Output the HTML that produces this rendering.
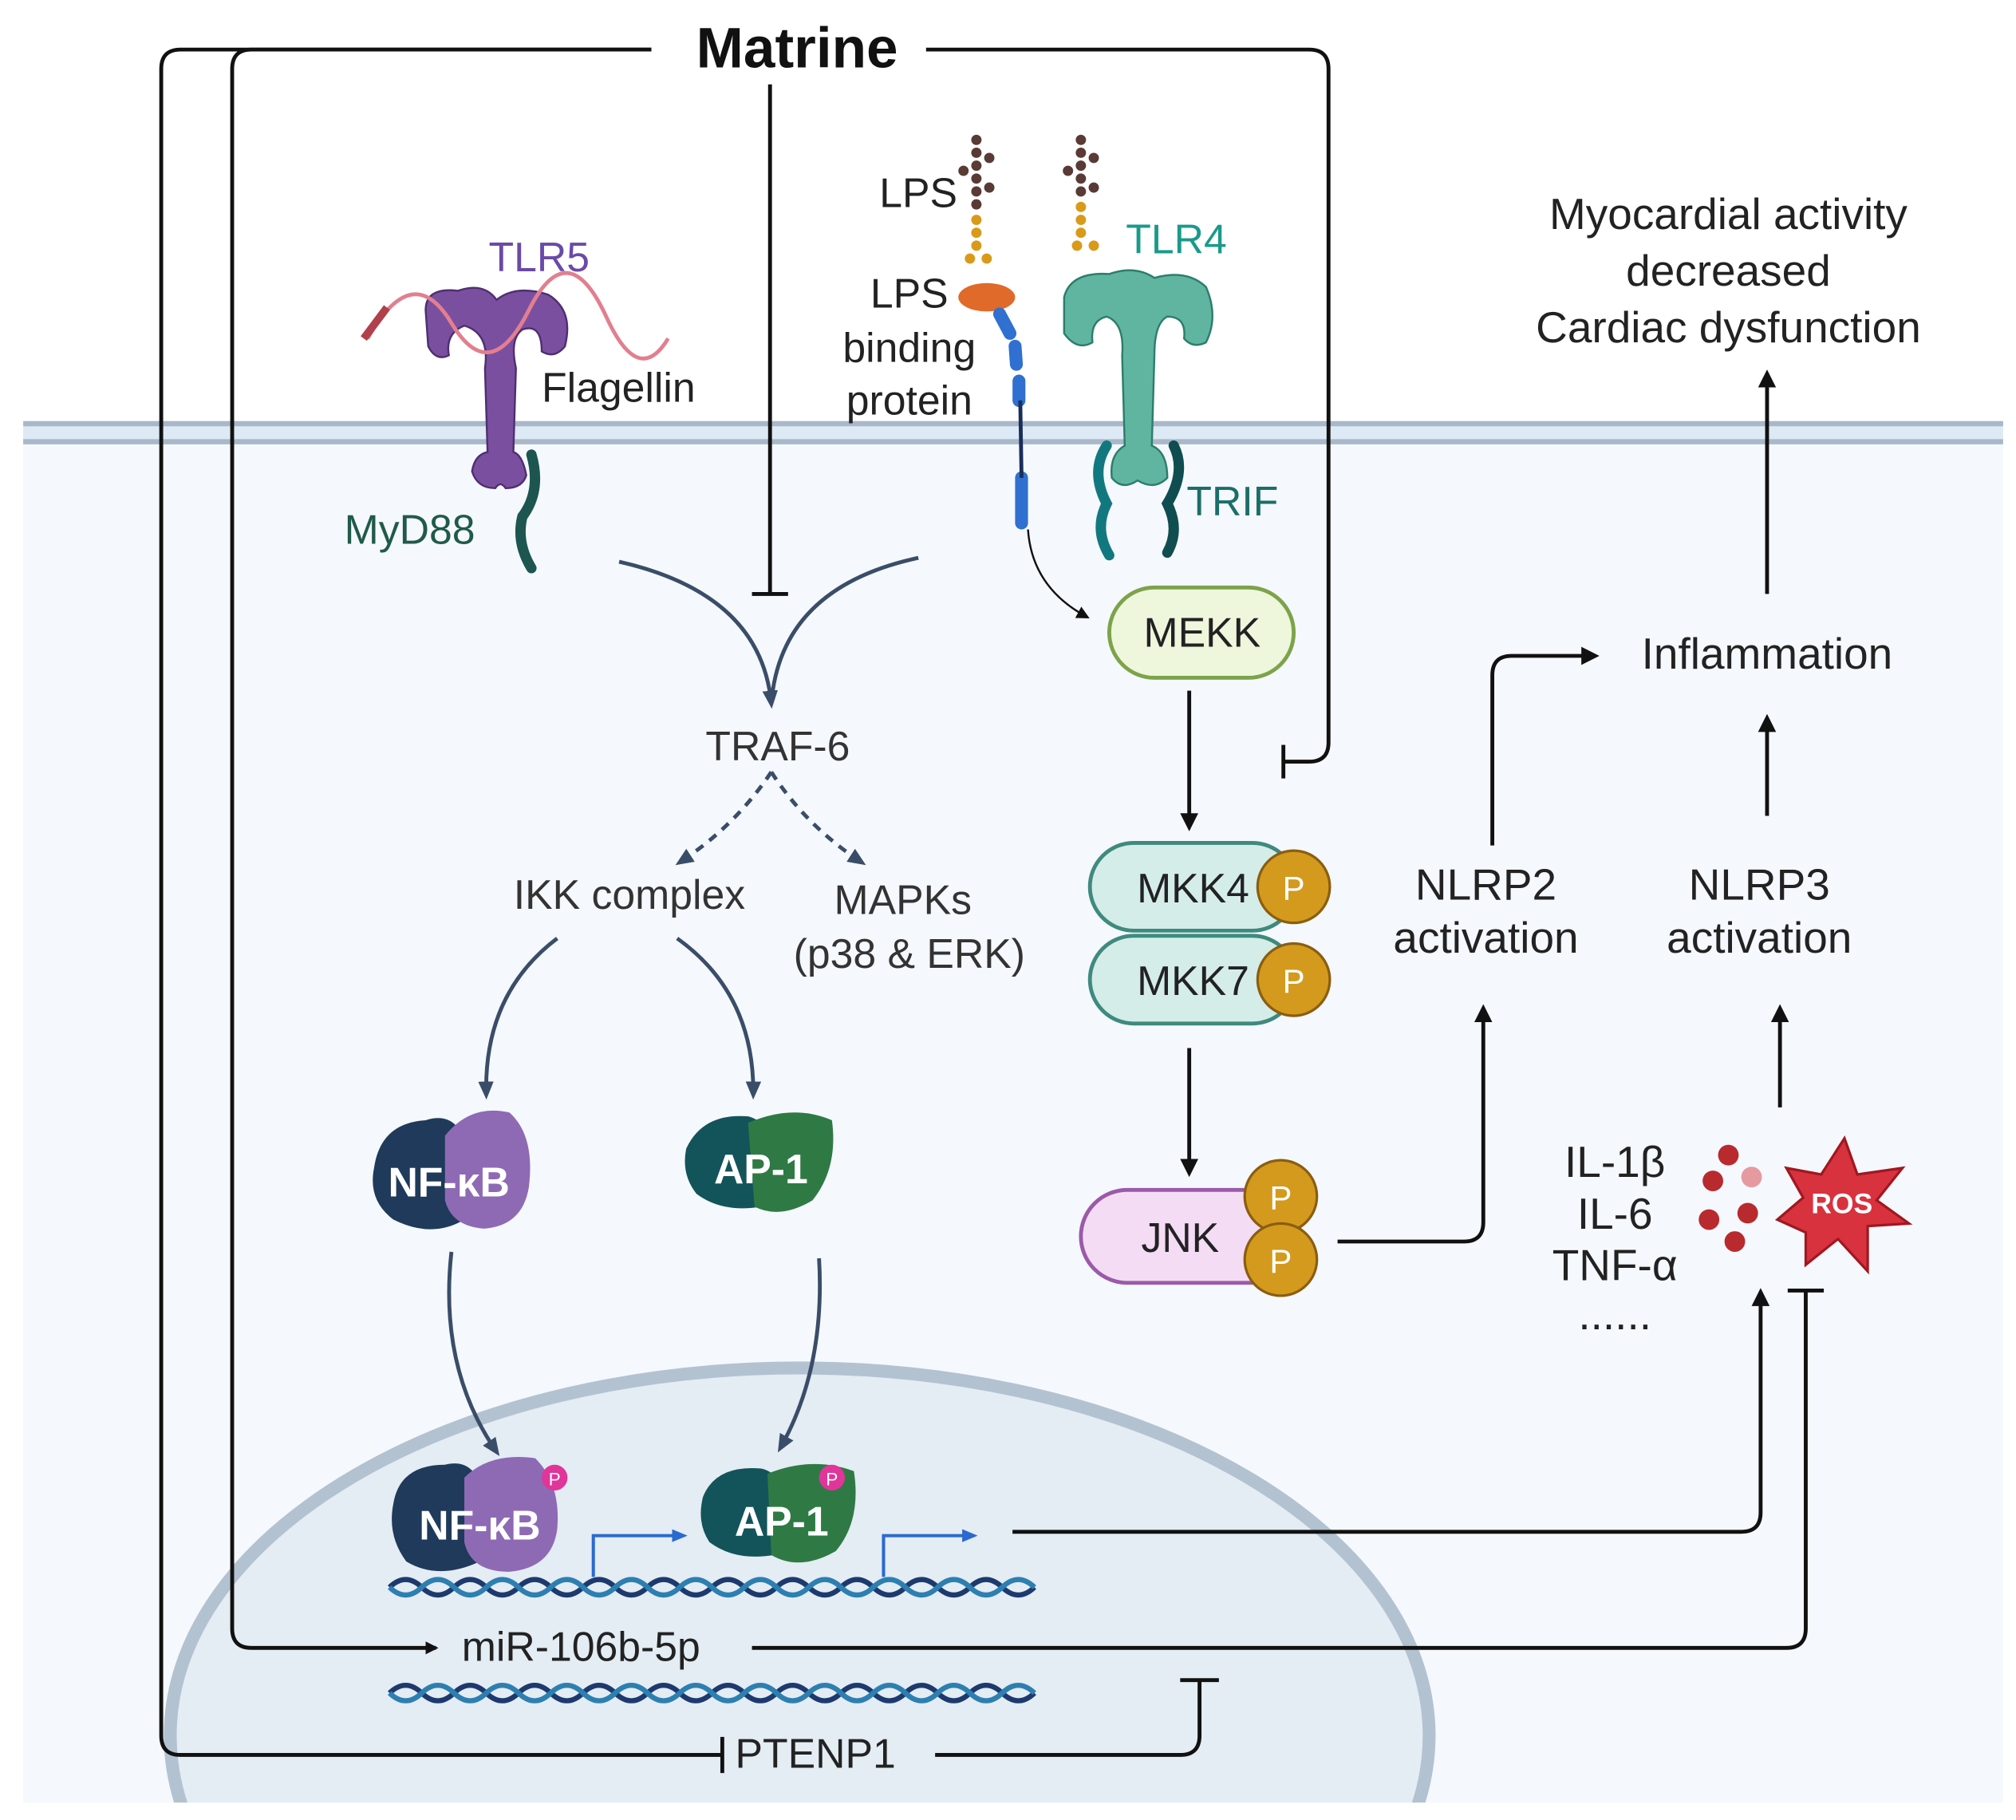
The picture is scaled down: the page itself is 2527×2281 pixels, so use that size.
<!DOCTYPE html><html><head><style>html,body{margin:0;padding:0;background:#fff;width:2527px;height:2281px;overflow:hidden}svg{display:block}text{font-family:"Liberation Sans",sans-serif}</style></head><body>
<svg width="2527" height="2281" viewBox="0 0 1563 1410" xmlns="http://www.w3.org/2000/svg">
<defs>
<marker id="a" markerWidth="10" markerHeight="10" refX="8" refY="5" orient="auto" markerUnits="userSpaceOnUse" viewBox="0 0 10 10"><path d="M0,0 L10,5 L0,10 z" fill="#111"/></marker>
<marker id="ab" markerWidth="14" markerHeight="14" refX="10" refY="7" orient="auto" markerUnits="userSpaceOnUse" viewBox="0 0 14 14"><path d="M0,0 L14,7 L0,14 z" fill="#111"/></marker>
<marker id="ad" markerWidth="14" markerHeight="14" refX="10" refY="7" orient="auto" markerUnits="userSpaceOnUse" viewBox="0 0 14 14"><path d="M0,1 L14,7 L0,13 z" fill="#3a4d68"/></marker>
<marker id="ablue" markerWidth="12" markerHeight="12" refX="9" refY="6" orient="auto" markerUnits="userSpaceOnUse" viewBox="0 0 12 12"><path d="M0,1 L12,6 L0,11 z" fill="#2a6ad0"/></marker>
</defs>
<rect width="1563" height="1410" fill="#fff"/>
<rect x="18" y="340" width="1535" height="1057" fill="#f5f8fc"/>
<rect x="18" y="326" width="1535" height="17" fill="#dde9f5"/>
<line x1="18" y1="328" x2="1553" y2="328" stroke="#a8b8c8" stroke-width="4"/>
<line x1="18" y1="342" x2="1553" y2="342" stroke="#a8b8c8" stroke-width="4"/>
<clipPath id="c"><rect x="0" y="0" width="1563" height="1397"/></clipPath>
<ellipse cx="620" cy="1345" rx="488" ry="285" fill="#e4ecf4" stroke="#b3c2d1" stroke-width="10" clip-path="url(#c)"/>
<rect x="0" y="1397" width="1563" height="13" fill="#fff"/>

<g fill="none" stroke="#111" stroke-width="3">
<path d="M505,38 H140 Q125,38 125,53 V1345 Q125,1360 140,1360 H560"/>
<line x1="560" y1="1346" x2="560" y2="1374"/>
<path d="M505,38 H195 Q180,38 180,53 V1262 Q180,1277 195,1277 H338" marker-end="url(#a)"/>
<path d="M718,38 H1015 Q1030,38 1030,53 V575 Q1030,590 1015,590 H995"/>
<line x1="995" y1="577" x2="995" y2="603"/>
<line x1="597" y1="65" x2="597" y2="460"/>
<line x1="583" y1="460" x2="611" y2="460"/>
<path d="M725,1360 H915 Q930,1360 930,1345 V1302"/>
<line x1="915" y1="1302" x2="945" y2="1302"/>
<path d="M583,1277 H1385 Q1400,1277 1400,1262 V1000"/>
<line x1="1386" y1="1000" x2="1414" y2="1000"/>
<path d="M785,1187 H1350 Q1365,1187 1365,1172 V1002" marker-end="url(#ab)"/>
<path d="M1037,962 H1135 Q1150,962 1150,947 V782" marker-end="url(#ab)"/>
<path d="M1157,655 V523 Q1157,508 1172,508 H1236" marker-end="url(#ab)"/>
<line x1="1370" y1="632" x2="1370" y2="557" marker-end="url(#ab)"/>
<line x1="1380" y1="858" x2="1380" y2="782" marker-end="url(#ab)"/>
<line x1="1370" y1="460" x2="1370" y2="290" marker-end="url(#ab)"/>
<line x1="922" y1="535" x2="922" y2="640" marker-end="url(#ab)"/>
<line x1="922" y1="812" x2="922" y2="908" marker-end="url(#ab)"/>
<path d="M797,410 Q800,455 843,478" stroke-width="1.5" marker-end="url(#a)"/>
</g>
<text x="618" y="52" font-size="44" font-weight="bold" text-anchor="middle" fill="#111">Matrine</text>

<g>
<path d="M330,240 Q330,222 355,225 Q375,218 385,232 Q400,220 425,228 Q445,240 438,268 Q430,278 420,272 Q420,250 405,255 Q395,262 400,285 L398,350 Q405,352 408,368 Q405,378 392,378 Q388,372 384,378 Q370,378 366,365 Q368,352 378,350 L376,285 Q380,258 360,252 Q345,258 348,275 Q338,280 332,268 Z" fill="#7b4fa0" stroke="#4e2f70" stroke-width="1.5"/>
<path d="M285,262 Q320,200 350,250 Q380,300 410,240 Q440,180 470,245 Q495,300 518,262" fill="none" stroke="#e27f8f" stroke-width="3"/>
<path d="M282,262 L300,238" stroke="#b0404b" stroke-width="6"/>
<path d="M412,352 Q420,380 405,400 Q400,420 412,440" fill="none" stroke="#1d5550" stroke-width="8" stroke-linecap="round"/>
</g>
<text x="418" y="210" font-size="32" fill="#6a4aa8" text-anchor="middle">TLR5</text>
<text x="420" y="311" font-size="32" fill="#222">Flagellin</text>
<text x="267" y="421" font-size="32" fill="#1f5a4a">MyD88</text>

<g fill="#5a3a35"><circle cx="757" cy="108" r="4"/><circle cx="757" cy="118" r="4"/><circle cx="757" cy="128" r="4"/><circle cx="757" cy="138" r="4"/><circle cx="757" cy="148" r="4"/><circle cx="757" cy="158" r="4"/><circle cx="767" cy="122" r="4"/><circle cx="767" cy="145" r="4"/><circle cx="747" cy="132" r="4"/>
<circle cx="838" cy="108" r="4"/><circle cx="838" cy="118" r="4"/><circle cx="838" cy="128" r="4"/><circle cx="838" cy="138" r="4"/><circle cx="838" cy="148" r="4"/><circle cx="848" cy="122" r="4"/><circle cx="848" cy="145" r="4"/><circle cx="828" cy="132" r="4"/></g>
<g fill="#d99a1a"><circle cx="757" cy="170" r="4"/><circle cx="757" cy="180" r="4"/><circle cx="757" cy="190" r="4"/><circle cx="752" cy="200" r="4"/><circle cx="765" cy="200" r="4"/>
<circle cx="838" cy="160" r="4"/><circle cx="838" cy="170" r="4"/><circle cx="838" cy="180" r="4"/><circle cx="835" cy="190" r="4"/><circle cx="848" cy="190" r="4"/></g>
<ellipse cx="765" cy="230" rx="22" ry="11" fill="#e06a2a"/>
<g stroke="#2f70d0" stroke-width="10" stroke-linecap="round" fill="none"><line x1="775" y1="243" x2="783" y2="258"/><line x1="787" y1="268" x2="788" y2="282"/><line x1="790" y1="295" x2="790" y2="310"/><line x1="792" y1="370" x2="792" y2="405"/></g>
<line x1="791" y1="310" x2="792" y2="370" stroke="#1a2e5a" stroke-width="3"/>
<text x="712" y="160" font-size="32" fill="#222" text-anchor="middle">LPS</text>
<text x="705" y="238" font-size="32" fill="#222" text-anchor="middle">LPS</text>
<text x="705" y="280" font-size="32" fill="#222" text-anchor="middle">binding</text>
<text x="705" y="321" font-size="32" fill="#222" text-anchor="middle">protein</text>

<path d="M825,230 Q830,210 860,212 Q880,205 895,215 Q920,208 935,222 Q945,245 935,265 Q925,270 918,262 Q920,245 905,245 Q895,250 895,275 L893,345 Q905,350 905,370 Q895,380 882,372 Q870,380 862,370 Q860,352 872,345 L870,275 Q872,250 858,245 Q845,248 847,265 Q835,272 825,258 Z" fill="#5fb5a0" stroke="#2d7d6c" stroke-width="1.5"/>
<path d="M858,345 Q845,365 858,390 Q848,410 860,430" fill="none" stroke="#127880" stroke-width="8" stroke-linecap="round"/>
<path d="M910,345 Q920,365 905,390 Q915,410 905,428" fill="none" stroke="#0f4d50" stroke-width="8" stroke-linecap="round"/>
<text x="912" y="196" font-size="32" fill="#1a9a8a" text-anchor="middle">TLR4</text>
<text x="920" y="399" font-size="32" fill="#1b6e6a">TRIF</text>

<g fill="none" stroke="#3a4d68" stroke-width="3">
<path d="M480,435 Q590,460 598,545" marker-end="url(#ad)"/>
<path d="M712,432 Q605,455 598,545"/>
<path d="M598,598 Q570,640 527,668" stroke-dasharray="7,6" marker-end="url(#ad)"/>
<path d="M598,598 Q625,640 668,668" stroke-dasharray="7,6" marker-end="url(#ad)"/>
<path d="M432,727 Q375,770 377,848" marker-end="url(#ad)"/>
<path d="M525,727 Q585,770 584,848" marker-end="url(#ad)"/>
<path d="M350,970 Q340,1060 385,1125" marker-end="url(#ad)"/>
<path d="M635,975 Q640,1060 605,1122" marker-end="url(#ad)"/>
</g>
<text x="603" y="589" font-size="32" fill="#333" text-anchor="middle">TRAF-6</text>
<text x="488" y="704" font-size="32" fill="#333" text-anchor="middle">IKK complex</text>
<text x="700" y="708" font-size="32" fill="#333" text-anchor="middle">MAPKs</text>
<text x="705" y="750" font-size="32" fill="#333" text-anchor="middle">(p38 &amp; ERK)</text>

<g>
<path d="M290,905 Q295,870 330,868 Q355,860 362,890 L360,945 Q335,960 305,945 Q285,930 290,905Z" fill="#1f3a5a"/>
<path d="M345,880 Q365,855 395,862 Q415,880 410,920 Q405,950 375,952 Q350,950 345,930Z" fill="#8e6ab5"/>
<text x="348" y="927" font-size="32" font-weight="bold" fill="#fff" text-anchor="middle">NF-κB</text>
<path d="M532,890 Q545,862 580,865 Q600,870 595,900 L590,935 Q560,940 540,925 Q528,910 532,890Z" fill="#13545a"/>
<path d="M580,870 Q615,855 645,868 Q650,905 630,930 Q605,945 585,935Z" fill="#2f7a44"/>
<text x="590" y="917" font-size="32" font-weight="bold" fill="#fff" text-anchor="middle">AP-1</text>
</g>

<path d="M305,1165 Q310,1135 345,1135 Q365,1130 372,1150 L372,1210 Q340,1225 315,1210 Q300,1190 305,1165Z" fill="#1f3a5a"/>
<path d="M360,1145 Q380,1125 415,1130 Q435,1150 432,1185 Q428,1215 395,1218 Q365,1218 360,1195Z" fill="#8e6ab5"/>
<circle cx="430" cy="1145" r="10" fill="#e0359a"/><text x="430" y="1151" font-size="14" fill="#fff" text-anchor="middle">P</text>
<text x="372" y="1193" font-size="32" font-weight="bold" fill="#fff" text-anchor="middle">NF-κB</text>
<path d="M545,1160 Q555,1135 590,1138 Q610,1142 605,1175 L600,1205 Q570,1210 550,1195 Q540,1180 545,1160Z" fill="#13545a"/>
<path d="M595,1142 Q630,1128 662,1140 Q668,1178 648,1202 Q620,1218 598,1205Z" fill="#2f7a44"/>
<circle cx="645" cy="1145" r="10" fill="#e0359a"/><text x="645" y="1151" font-size="14" fill="#fff" text-anchor="middle">P</text>
<text x="606" y="1190" font-size="32" font-weight="bold" fill="#fff" text-anchor="middle">AP-1</text>
<g fill="none" stroke="#2a6ad0" stroke-width="2.5">
<path d="M460,1222 V1190 H530" marker-end="url(#ablue)"/>
<path d="M685,1222 V1190 H755" marker-end="url(#ablue)"/>
</g>
<g fill="none" stroke-width="4">
<path d="M302,1230 q12.5,-12 25,0 t25,0 t25,0 t25,0 t25,0 t25,0 t25,0 t25,0 t25,0 t25,0 t25,0 t25,0 t25,0 t25,0 t25,0 t25,0 t25,0 t25,0 t25,0 t25,0" stroke="#1d3a6e"/>
<path d="M302,1230 q12.5,12 25,0 t25,0 t25,0 t25,0 t25,0 t25,0 t25,0 t25,0 t25,0 t25,0 t25,0 t25,0 t25,0 t25,0 t25,0 t25,0 t25,0 t25,0 t25,0 t25,0" stroke="#2d7fb0"/>
<path d="M302,1312 q12.5,-12 25,0 t25,0 t25,0 t25,0 t25,0 t25,0 t25,0 t25,0 t25,0 t25,0 t25,0 t25,0 t25,0 t25,0 t25,0 t25,0 t25,0 t25,0 t25,0 t25,0" stroke="#1d3a6e"/>
<path d="M302,1312 q12.5,12 25,0 t25,0 t25,0 t25,0 t25,0 t25,0 t25,0 t25,0 t25,0 t25,0 t25,0 t25,0 t25,0 t25,0 t25,0 t25,0 t25,0 t25,0 t25,0 t25,0" stroke="#2d7fb0"/>
</g>
<text x="358" y="1287" font-size="32" fill="#222">miR-106b-5p</text>
<text x="570" y="1370" font-size="32" fill="#222">PTENP1</text>

<rect x="860" y="455" width="143" height="70" rx="35" fill="#eef6dc" stroke="#7da34a" stroke-width="3"/>
<text x="932" y="501" font-size="32" fill="#222" text-anchor="middle">MEKK</text>
<rect x="845" y="653" width="160" height="68" rx="34" fill="#d4ede8" stroke="#3f8a7e" stroke-width="3"/>
<rect x="845" y="725" width="160" height="68" rx="34" fill="#d4ede8" stroke="#3f8a7e" stroke-width="3"/>
<text x="925" y="699" font-size="32" fill="#222" text-anchor="middle">MKK4</text>
<text x="925" y="771" font-size="32" fill="#222" text-anchor="middle">MKK7</text>
<rect x="838" y="922" width="170" height="72" rx="36" fill="#f4dcf5" stroke="#9b5aa8" stroke-width="3"/>
<text x="915" y="970" font-size="32" fill="#222" text-anchor="middle">JNK</text>
<g fill="#d39a1e" stroke="#8a5e10" stroke-width="2">
<circle cx="1003" cy="687" r="28"/><circle cx="1003" cy="759" r="28"/><circle cx="993" cy="927" r="28"/><circle cx="993" cy="976" r="28"/></g>
<g font-size="26" fill="#fff" text-anchor="middle"><text x="1003" y="697">P</text><text x="1003" y="769">P</text><text x="993" y="937">P</text><text x="993" y="986">P</text></g>

<g font-size="34" fill="#222" text-anchor="middle">
<text x="1340" y="177">Myocardial activity</text>
<text x="1340" y="221">decreased</text>
<text x="1340" y="265">Cardiac dysfunction</text>
<text x="1370" y="518">Inflammation</text>
<text x="1152" y="697">NLRP2</text><text x="1152" y="738">activation</text>
<text x="1364" y="697">NLRP3</text><text x="1364" y="738">activation</text>
<text x="1252" y="912">IL-1β</text><text x="1252" y="952">IL-6</text><text x="1252" y="992">TNF-α</text>
<text x="1252" y="1030">......</text>
</g>
<g fill="#b82a2e"><circle cx="1340" cy="895" r="8"/><circle cx="1328" cy="915" r="8"/><circle cx="1355" cy="940" r="8"/><circle cx="1325" cy="945" r="8"/><circle cx="1345" cy="962" r="8"/></g>
<circle cx="1358" cy="912" r="8" fill="#e59aa0"/>
<path d="M1430,882 L1440,910 L1475,905 L1455,930 L1480,948 L1448,950 L1448,985 L1425,960 L1400,980 L1400,955 L1378,945 L1398,928 L1385,905 L1412,910 Z" fill="#d8323e" stroke="#a01820" stroke-width="2"/>
<text x="1428" y="940" font-size="22" font-weight="bold" fill="#fff" text-anchor="middle">ROS</text>
</svg>
</body></html>
